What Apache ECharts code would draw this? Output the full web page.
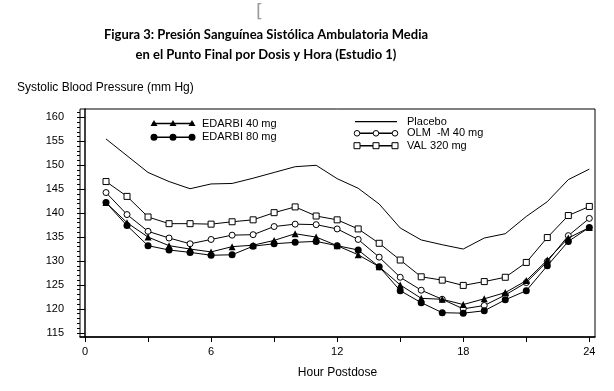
<!DOCTYPE html>
<html><head><meta charset="utf-8">
<script src="https://cdn.jsdelivr.net/npm/echarts@6/dist/echarts.min.js"></script>
<style>html,body{margin:0;padding:0;background:#fff}#c{width:614px;height:391px}</style>
</head><body><div id="c"></div>
<script>
const hours = [1,2,3,4,5,6,7,8,9,10,11,12,13,14,15,16,17,18,19,20,21,22,23,24];
const placebo = [155.5,152.0,148.5,146.6,145.1,146.1,146.2,147.3,148.5,149.7,150.0,147.2,145.2,141.9,136.9,134.4,133.4,132.5,134.8,135.7,139.3,142.4,147.0,149.2];
const olm40 = [144.3,139.7,136.2,134.8,133.6,134.5,135.4,135.5,137.2,137.7,137.6,136.7,134.5,130.8,126.6,123.9,122.0,120.0,120.7,122.9,125.5,129.9,135.3,138.9];
const val320 = [146.6,143.5,139.2,137.8,137.8,137.7,138.2,138.6,140.1,141.3,139.4,138.6,136.7,133.7,130.2,126.7,126.0,124.9,125.7,126.6,129.7,134.9,139.5,141.4];
const edarbi40 = [142.2,138.0,135.0,133.2,132.5,131.9,133.0,133.3,134.3,135.7,135.0,133.2,131.3,128.8,125.0,122.2,122.0,120.9,122.1,123.4,125.9,130.2,134.8,137.0];
const edarbi80 = [142.2,137.4,133.2,132.3,131.8,131.2,131.3,133.1,133.6,133.9,134.1,133.2,132.3,128.8,123.8,121.3,119.2,119.1,119.6,121.9,123.8,129.0,134.1,137.0];
const yLabels = [115,120,125,130,135,140,145,150,155,160];
const yMinor = [115,116,117,118,119,120,121,122,123,124,125,126,127,128,129,130,131,132,133,134,135,136,137,138,139,140,141,142,143,144,145,146,147,148,149,150,151,152,153,154,155,156,157,158,159,160,161];
const xLabels = [0,6,12,18,24];
const xTicks = [0,3,6,9,12,15,18,21,24];
const legendLeft = ['EDARBI 40 mg','EDARBI 80 mg'];
const legendRight = ['Placebo','OLM  -M 40 mg','VAL 320 mg'];

const toPairs = arr => hours.map((h,i)=>[h,arr[i]]);
const chart = echarts.init(document.getElementById('c'), null, {renderer:'canvas'});
const F = 'Liberation Sans, Arial, sans-serif';
const lineSty = {color:'#000', width:1};

function legendSample(x, y, kind){
  const els = [];
  els.push({type:'line', shape:{x1:x, y1:y, x2:x+42, y2:y}, style:{stroke:'#000', lineWidth: kind==='none'?1.2:1.5}, z:10});
  const xs = [x+2, x+21, x+40];
  if (kind === 'none') return els;
  xs.forEach(cx=>{
    if (kind==='triangle') els.push({type:'polygon', shape:{points:[[cx,y-3.5],[cx-3.5,y+2.5],[cx+3.5,y+2.5]]}, style:{fill:'#000'}, z:11});
    if (kind==='dot') els.push({type:'circle', shape:{cx:cx, cy:y, r:3.5}, style:{fill:'#000'}, z:11});
    if (kind==='ocircle') els.push({type:'circle', shape:{cx:cx, cy:y, r:2.8}, style:{fill:'#fff', stroke:'#000', lineWidth:1}, z:11});
    if (kind==='square') els.push({type:'rect', shape:{x:cx-3, y:y-3, width:6, height:6}, style:{fill:'#fff', stroke:'#000', lineWidth:1}, z:11});
  });
  return els;
}
const graphics = [
  {type:'text', x:256, y:3, style:{text:'[', font:'18px DejaVu Sans', fill:'#9a9a9a'}},
  {type:'text', x:17, y:88, style:{text:'Systolic Blood Pressure (mm Hg)', font:'12px '+F, fill:'#000', textVerticalAlign:'middle'}}
];
graphics.push(...legendSample(152,123.5,'triangle'));
graphics.push(...legendSample(152,137.3,'dot'));
graphics.push(...legendSample(355,121.7,'none'));
graphics.push(...legendSample(355,133.3,'ocircle'));
graphics.push(...legendSample(355,145.7,'square'));
[[legendLeft[0],202,123.5],[legendLeft[1],202,137.3],[legendRight[0],407,121.7],[legendRight[1],407,133.3],[legendRight[2],407,145.7]].forEach(t=>{
  graphics.push({type:'text', x:t[1], y:t[2], style:{text:t[0], font:'11px '+F, fill:'#000', textVerticalAlign:'middle'}, z:12});
});

const option = {
  animation:false,
  backgroundColor:'#fff',
  title:{
    text:'Figura 3: Presión Sanguínea Sistólica Ambulatoria Media\nen el Punto Final por Dosis y Hora (Estudio 1)',
    left:261, top:20, textAlign:'center',
    textStyle:{fontFamily:'Lato', fontWeight:'bold', fontSize:13, lineHeight:20, color:'#000'}
  },
  grid:{left:80, right:19, top:109, bottom:54, show:true, borderColor:'#000', borderWidth:1},
  xAxis:{
    type:'value', min:-0.238, max:24.27,
    name:'Hour Postdose', nameLocation:'middle', nameGap:30,
    nameTextStyle:{fontFamily:F, fontSize:12, color:'#000'},
    axisLine:{show:true, lineStyle:{color:'#000', width:1.5}},
    axisTick:{show:true, length:5, lineStyle:{color:'#000'}, customValues:xTicks},
    axisLabel:{fontFamily:F, fontSize:11, color:'#000', margin:9, customValues:xLabels},
    splitLine:{show:false}
  },
  yAxis:[{
    type:'value', min:114.12, max:161.76,
    axisLine:{show:true, lineStyle:{color:'#000', width:1.5}},
    axisTick:{show:true, length:6, lineStyle:{color:'#000'}, customValues:yLabels},
    axisLabel:{fontFamily:F, fontSize:11, color:'#000', margin:16, customValues:yLabels},
    splitLine:{show:false}
  },{
    type:'value', min:114.12, max:161.76, position:'left',
    axisLine:{show:false},
    axisTick:{show:true, length:3, lineStyle:{color:'#000'}, customValues:yMinor},
    axisLabel:{show:false},
    splitLine:{show:false}
  }],
  graphic: graphics,
  series:[
    {type:'line', name:legendRight[0], data:toPairs(placebo), symbol:'none', lineStyle:lineSty, z:2},
    {type:'line', name:legendRight[2], data:toPairs(val320), symbol:'rect', symbolSize:6, lineStyle:lineSty, itemStyle:{color:'#fff', borderColor:'#000', borderWidth:1}, z:3},
    {type:'line', name:legendRight[1], data:toPairs(olm40), symbol:'circle', symbolSize:6, lineStyle:lineSty, itemStyle:{color:'#fff', borderColor:'#000', borderWidth:1}, z:4},
    {type:'line', name:legendLeft[0], data:toPairs(edarbi40), symbol:'triangle', symbolSize:7, lineStyle:lineSty, itemStyle:{color:'#000'}, z:5},
    {type:'line', name:legendLeft[1], data:toPairs(edarbi80), symbol:'circle', symbolSize:7, lineStyle:lineSty, itemStyle:{color:'#000'}, z:6}
  ]
};
chart.setOption(option);
</script></body></html>
